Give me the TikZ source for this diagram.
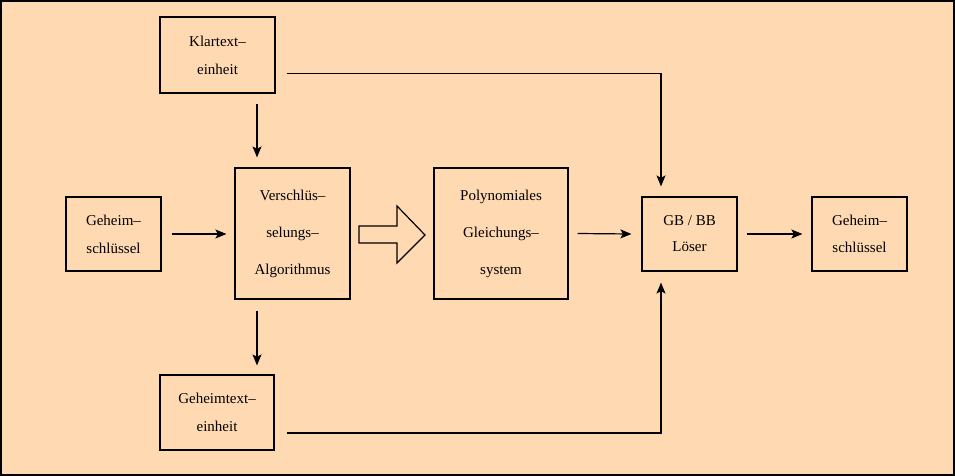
\documentclass[tikz,border=0pt]{standalone}
\usepackage{fontspec}
\setmainfont{Liberation Serif}
\usetikzlibrary{arrows.meta,calc}
\definecolor{peach}{RGB}{254,217,178}
\begin{document}
\begin{tikzpicture}[x=1pt,y=-1pt,
  box/.style={draw=black,line width=1.2pt,rectangle,inner sep=0pt,align=center,
    font=\fontsize{15}{28}\selectfont},
  arr/.style={-{Stealth[length=11pt,width=9pt,inset=2.5pt]},line width=1.2pt}]
\useasboundingbox (0,0) rectangle (955,476);
\draw[fill=peach,line width=2pt] (1,1) rectangle (954,475);
\node[box,minimum width=115pt,minimum height=76pt] (klar) at (217.5,55) {Klartext\textendash\\einheit};
\node[box,minimum width=95pt,minimum height=74pt] (gl) at (113.5,234) {Geheim\textendash\\schlüssel};
\node[box,minimum width=115pt,minimum height=131pt,font=\fontsize{15}{37}\selectfont] (vs) at (292.5,233.5) {Verschlüs\textendash\\selungs\textendash\\Algorithmus};
\node[box,minimum width=134pt,minimum height=131pt,font=\fontsize{15}{37}\selectfont] (poly) at (501,233.5) {Polynomiales\\Gleichungs\textendash\\system};
\node[box,minimum width=95pt,minimum height=74pt,font=\fontsize{15}{26}\selectfont] (gb) at (689.5,234) {GB / BB\\Löser};
\node[box,minimum width=95pt,minimum height=74pt,font=\fontsize{15}{27}\selectfont] (gr) at (859.5,234) {Geheim\textendash\\schlüssel};
\node[box,minimum width=114pt,minimum height=75pt] (gt) at (217,412.5) {Geheimtext\textendash\\einheit};
% hollow arrow
\draw[line width=1.2pt,fill=peach] (359,226) -- (397,226) -- (397,206) -- (425,235) -- (397,263) -- (397,243) -- (359,243) -- cycle;
% connectors
\draw[arr] ([xshift=10pt]gl.east) -- ([xshift=-8pt]vs.west |- gl.east);
\draw[arr] ([xshift=9pt]poly.east) -- ([xshift=-10pt]gb.west);
\draw[arr] ([xshift=9pt]gb.east) -- ([xshift=-9pt]gr.west);
\draw[arr] ([xshift=39.5pt,yshift=-10pt]klar.south) -- ([xshift=-35.5pt,yshift=10pt]vs.north);
\draw[arr] ([xshift=-35.5pt,yshift=-11pt]vs.south) -- ([xshift=40pt,yshift=9pt]gt.north);
\draw[arr] ([xshift=11pt,yshift=-18.5pt]klar.east) -| ([xshift=-28.5pt,yshift=10pt]gb.north);
\draw[arr] ([xshift=12pt,yshift=-20.5pt]gt.east) -| ([xshift=-28.5pt,yshift=-11pt]gb.south);
\end{tikzpicture}
\end{document}
